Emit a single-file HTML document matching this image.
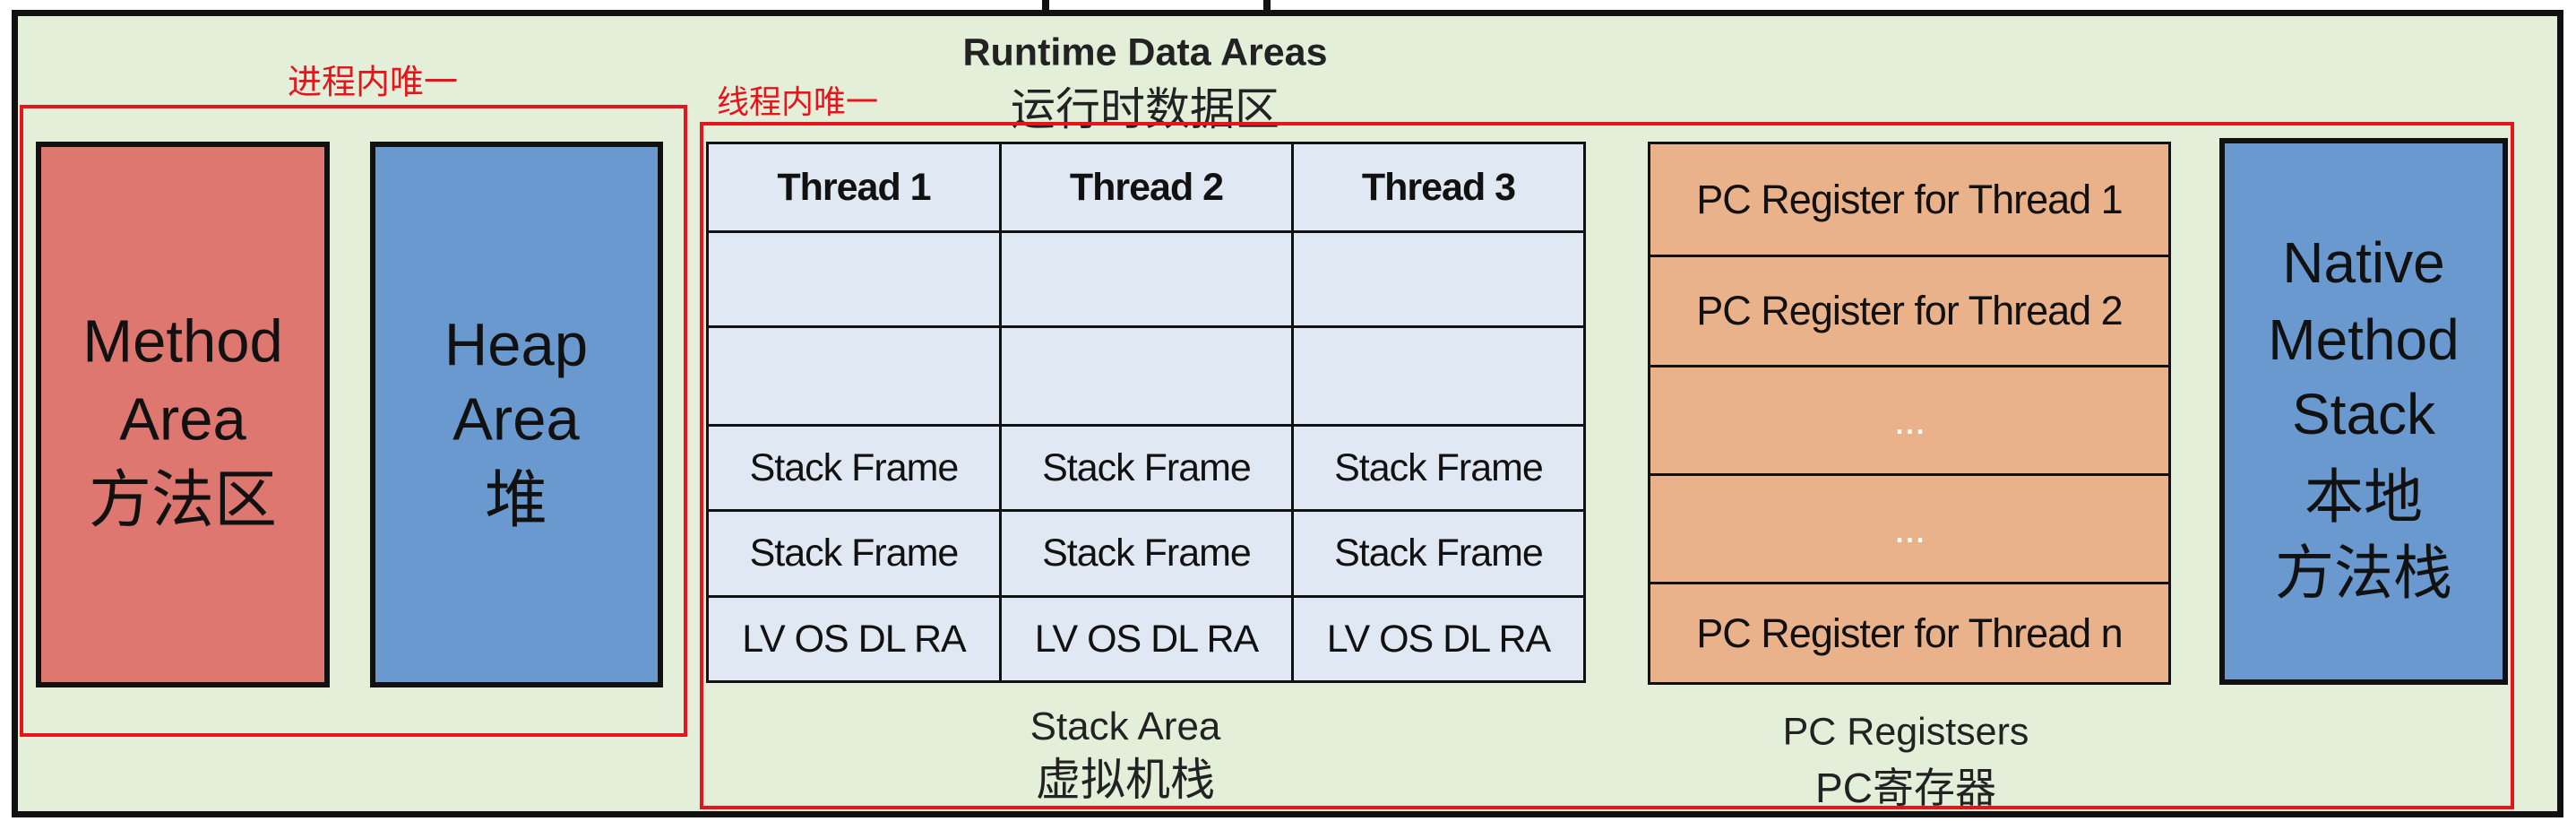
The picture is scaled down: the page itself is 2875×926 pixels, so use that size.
<!DOCTYPE html>
<html><head><meta charset="utf-8"><style>
*{margin:0;padding:0;box-sizing:border-box}
body{width:2875px;height:926px;background:#fff;position:relative;overflow:hidden;font-family:"Liberation Sans","Noto Sans CJK SC",sans-serif}
.a{position:absolute}
.t{position:absolute;text-align:center;white-space:nowrap;transform:translate(-50%,-50%)}
.cell{position:absolute;border:3px solid #111;display:flex;align-items:center;justify-content:center;font-size:43px;color:#111;letter-spacing:-1px;white-space:nowrap}
.pc{font-size:45px}
</style></head><body>
<div class="a" style="left:13px;top:11px;width:2848px;height:901px;background:#e3efd9;border:7px solid #111"></div>
<div class="a" style="left:1163px;top:0;width:8px;height:11px;background:#111"></div>
<div class="a" style="left:1410px;top:0;width:8px;height:11px;background:#111"></div>
<div class="t" style="left:1278px;top:59px;font-size:43px;font-weight:bold;color:#222">Runtime Data Areas</div>
<div class="t" style="left:1278px;top:118px;font-size:50px;color:#222">运行时数据区</div>
<div class="t" style="left:416px;top:88px;font-size:38px;color:#e8141c">进程内唯一</div>
<div class="t" style="left:890px;top:111px;font-size:36px;color:#e8141c">线程内唯一</div>
<div class="a" style="left:22px;top:117px;width:745px;height:705px;border:4px solid #e8141c"></div>
<div class="a" style="left:781px;top:136px;width:2025px;height:767px;border:4px solid #e8141c"></div>
<div class="a" style="left:40px;top:158px;width:328px;height:609px;background:#dd7770;border:6px solid #111"></div>
<div class="t" style="left:204px;top:381px;font-size:67px;color:#111">Method</div>
<div class="t" style="left:204px;top:468px;font-size:67px;color:#111">Area</div>
<div class="t" style="left:204px;top:552px;font-size:70px;color:#111">方法区</div>
<div class="a" style="left:413px;top:158px;width:327px;height:609px;background:#6a99cf;border:6px solid #111"></div>
<div class="t" style="left:576px;top:385px;font-size:67px;color:#111">Heap</div>
<div class="t" style="left:576px;top:468px;font-size:67px;color:#111">Area</div>
<div class="t" style="left:576px;top:552px;font-size:70px;color:#111">堆</div>

<div class="cell" style="left:788px;top:158px;width:330px;height:102px;background:#dfe8f3;font-weight:bold">Thread 1</div>
<div class="cell" style="left:1115px;top:158px;width:329px;height:102px;background:#dfe8f3;font-weight:bold">Thread 2</div>
<div class="cell" style="left:1441px;top:158px;width:329px;height:102px;background:#dfe8f3;font-weight:bold">Thread 3</div>
<div class="cell" style="left:788px;top:257px;width:330px;height:109px;background:#dfe8f3"></div>
<div class="cell" style="left:1115px;top:257px;width:329px;height:109px;background:#dfe8f3"></div>
<div class="cell" style="left:1441px;top:257px;width:329px;height:109px;background:#dfe8f3"></div>
<div class="cell" style="left:788px;top:363px;width:330px;height:113px;background:#dfe8f3"></div>
<div class="cell" style="left:1115px;top:363px;width:329px;height:113px;background:#dfe8f3"></div>
<div class="cell" style="left:1441px;top:363px;width:329px;height:113px;background:#dfe8f3"></div>
<div class="cell" style="left:788px;top:473px;width:330px;height:98px;background:#dfe8f3">Stack Frame</div>
<div class="cell" style="left:1115px;top:473px;width:329px;height:98px;background:#dfe8f3">Stack Frame</div>
<div class="cell" style="left:1441px;top:473px;width:329px;height:98px;background:#dfe8f3">Stack Frame</div>
<div class="cell" style="left:788px;top:568px;width:330px;height:99px;background:#dfe8f3">Stack Frame</div>
<div class="cell" style="left:1115px;top:568px;width:329px;height:99px;background:#dfe8f3">Stack Frame</div>
<div class="cell" style="left:1441px;top:568px;width:329px;height:99px;background:#dfe8f3">Stack Frame</div>
<div class="cell" style="left:788px;top:664px;width:330px;height:98px;background:#dfe8f3">LV OS DL RA</div>
<div class="cell" style="left:1115px;top:664px;width:329px;height:98px;background:#dfe8f3">LV OS DL RA</div>
<div class="cell" style="left:1441px;top:664px;width:329px;height:98px;background:#dfe8f3">LV OS DL RA</div>
<div class="t" style="left:1256px;top:811px;font-size:44px;color:#222">Stack Area</div>
<div class="t" style="left:1256px;top:866px;font-size:50px;color:#222">虚拟机栈</div>

<div class="cell pc" style="left:1839px;top:158px;width:584px;height:129px;background:#e9b28a">PC Register for Thread 1</div>
<div class="cell pc" style="left:1839px;top:284px;width:584px;height:126px;background:#e9b28a">PC Register for Thread 2</div>
<div class="cell pc" style="left:1839px;top:407px;width:584px;height:124px;background:#e9b28a;color:#fff">...</div>
<div class="cell pc" style="left:1839px;top:528px;width:584px;height:124px;background:#e9b28a;color:#fff">...</div>
<div class="cell pc" style="left:1839px;top:649px;width:584px;height:115px;background:#e9b28a">PC Register for Thread n</div>
<div class="t" style="left:2127px;top:817px;font-size:43px;color:#222">PC Registsers</div>
<div class="t" style="left:2127px;top:876px;font-size:46px;color:#222">PC寄存器</div>

<div class="a" style="left:2477px;top:154px;width:322px;height:610px;background:#6a99cf;border:6px solid #111"></div>
<div class="t" style="left:2638px;top:293px;font-size:64px;color:#111">Native</div>
<div class="t" style="left:2638px;top:379px;font-size:64px;color:#111">Method</div>
<div class="t" style="left:2638px;top:462px;font-size:64px;color:#111">Stack</div>
<div class="t" style="left:2638px;top:549px;font-size:66px;color:#111">本地</div>
<div class="t" style="left:2638px;top:634px;font-size:66px;color:#111">方法栈</div>
</body></html>
